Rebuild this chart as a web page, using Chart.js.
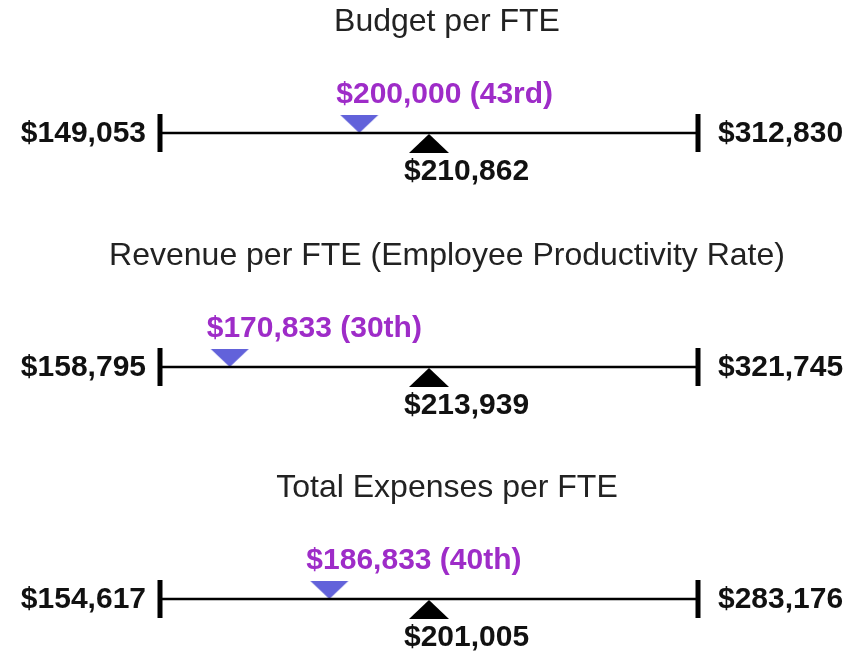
<!DOCTYPE html>
<html>
<head>
<meta charset="utf-8">
<script src="https://cdn.jsdelivr.net/npm/chart.js@4"></script>
<style>
    body { margin: 0; background: #fff; overflow: hidden; }
    #wrap { position: relative; width: 856px; height: 654px; }
    canvas { position: absolute; left: 0; }
</style>
</head>
<body>
<div id="wrap">
    <canvas id="row0" width="856" height="200" style="top:0px"></canvas>
    <canvas id="row1" width="856" height="200" style="top:234px"></canvas>
    <canvas id="row2" width="856" height="200" style="top:466px"></canvas>
</div>
<script>
//data
const titles = ['Budget per FTE', 'Revenue per FTE (Employee Productivity Rate)', 'Total Expenses per FTE']
const lowValues = [149053, 158795, 154617]
const highValues = [312830, 321745, 283176]
const ownValues = [200000, 170833, 186833]
const ownPercentiles = [43, 30, 40]
const medianValues = [210862, 213939, 201005]
const medianPercentile = 50
// percentile shown at each end of the bar
const endPercentiles = [23, 77]

//config color
const purpleText = '#9e2cc8'
const markerColor = '#6262da'
const inkColor = '#111'
const fontFamily = '"Liberation Sans", Arial, Helvetica, sans-serif'

function money(v){
    return '$' + v.toLocaleString('en-US')
}

function ordinal(n){
    let s = 'th'
    if (n % 100 < 11 || n % 100 > 13) {
        if (n % 10 == 1) s = 'st'
        else if (n % 10 == 2) s = 'nd'
        else if (n % 10 == 3) s = 'rd'
    }
    return n + s
}

//triangle images, apex at the centre of the image
function triangleImage(color, down){
    const c = document.createElement('canvas')
    c.width = 44
    c.height = 44
    const g = c.getContext('2d')
    g.fillStyle = color
    g.beginPath()
    if (down) {
        g.moveTo(22 - 19, 22 - 18)
        g.lineTo(22 + 19, 22 - 18)
        g.lineTo(22, 22)
    } else {
        g.moveTo(22, 23)
        g.lineTo(22 - 20, 23 + 19)
        g.lineTo(22 + 20, 23 + 19)
    }
    g.closePath()
    g.fill()
    return c
}

const downTriangle = triangleImage(markerColor, true)
const upTriangle = triangleImage('#000', false)

//labels plugin
const labelPlugin = {
    id: 'rangeLabels',
    afterDatasetsDraw(chart, args, opts) {
        const i = opts.row
        const ctx = chart.ctx
        const x = chart.scales.x
        const y0 = chart.scales.y.getPixelForValue(0)
        const xl = x.getPixelForValue(endPercentiles[0])
        const xr = x.getPixelForValue(endPercentiles[1])
        const xv = x.getPixelForValue(ownPercentiles[i])
        const xm = x.getPixelForValue(medianPercentile)
        ctx.save()
        ctx.textBaseline = 'middle'

        ctx.font = '32px ' + fontFamily
        ctx.fillStyle = '#222'
        ctx.textAlign = 'center'
        ctx.fillText(titles[i], 447, y0 - 111)

        ctx.font = 'bold 30px ' + fontFamily
        ctx.fillStyle = inkColor
        ctx.textAlign = 'right'
        ctx.fillText(money(lowValues[i]), xl - 14, y0 + 1)
        ctx.textAlign = 'left'
        ctx.fillText(money(highValues[i]), xr + 20, y0 + 1)
        ctx.fillText(money(medianValues[i]), xm - 25, y0 + 39)

        ctx.fillStyle = purpleText
        ctx.fillText(money(ownValues[i]) + ' (' + ordinal(ownPercentiles[i]) + ')', xv - 23, y0 - 38)
        ctx.restore()
    }
}

function drawRow(i){
    const ctx = document.getElementById('row' + i).getContext('2d')
    return new Chart(ctx, {
        type: 'scatter',
        data: {
            datasets: [{
                type: 'line',
                data: endPercentiles.map(p => ({x: p, y: 0})),
                borderColor: '#000',
                borderWidth: 2.5,
                pointStyle: 'line',
                pointRotation: 90,
                pointRadius: 19,
                pointBorderWidth: 5,
                pointBorderColor: '#000',
                clip: false
            }, {
                data: [{x: medianPercentile, y: 0}],
                pointStyle: upTriangle,
                clip: false
            }, {
                data: [{x: ownPercentiles[i], y: 0}],
                pointStyle: downTriangle,
                clip: false
            }]
        },
        options: {
            responsive: false,
            animation: false,
            devicePixelRatio: 1,
            layout: { padding: { left: 160, right: 158, top: 90, bottom: 0 } },
            scales: {
                x: { type: 'linear', min: endPercentiles[0], max: endPercentiles[1], display: false },
                y: { min: -1, max: 1, display: false }
            },
            plugins: {
                legend: { display: false },
                tooltip: { enabled: false },
                rangeLabels: { row: i }
            }
        },
        plugins: [labelPlugin]
    })
}

titles.forEach((t, i) => drawRow(i))
</script>
</body>
</html>
